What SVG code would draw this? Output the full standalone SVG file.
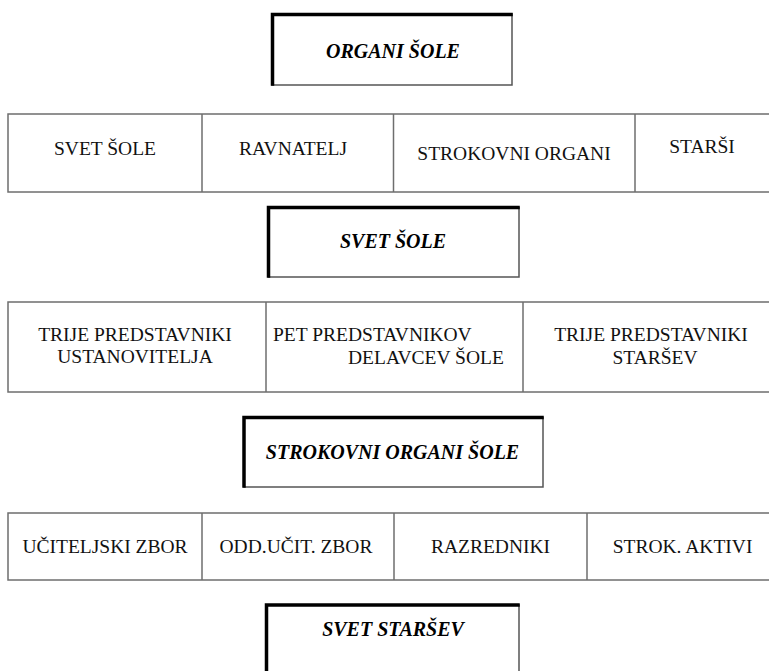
<svg xmlns="http://www.w3.org/2000/svg" width="769" height="671" viewBox="0 0 769 671">
<style>
.bg{fill:#fff}
.row{fill:#fff;stroke:#6e6e6e;stroke-width:1.5}
.div{stroke:#6e6e6e;stroke-width:1.5}
.thin{fill:none;stroke:#555;stroke-width:1.5}
.thick{fill:none;stroke:#000;stroke-width:3.5;stroke-linecap:square}
.h{font-family:"Liberation Serif","Times New Roman",serif;font-weight:bold;font-style:italic;font-size:20px;fill:#000;text-anchor:middle}
.t{font-family:"Liberation Serif","Times New Roman",serif;font-size:19.5px;fill:#111;text-anchor:middle}
.l{font-family:"Liberation Serif","Times New Roman",serif;font-size:19.5px;fill:#111}
</style>
<rect class="bg" width="769" height="671"/>

<g id="organi-sole">
<rect class="thin" x="272" y="14" width="240" height="71"/>
<path class="thick" d="M272.5,84 V14.5 H511"/>
<text class="h" x="393" y="58">ORGANI ŠOLE</text>
</g>

<g id="row1">
<rect class="row" x="8" y="114" width="775" height="78"/>
<g id="svet-sole-cell"><text class="t" x="105" y="155">SVET ŠOLE</text></g>
<g id="ravnatelj"><line class="div" x1="202" y1="114" x2="202" y2="192"/><text class="t" x="293" y="155">RAVNATELJ</text></g>
<g id="strokovni-organi"><line class="div" x1="393.5" y1="114" x2="393.5" y2="192"/><text class="t" x="514" y="160">STROKOVNI ORGANI</text></g>
<g id="starsi"><line class="div" x1="635" y1="114" x2="635" y2="192"/><text class="t" x="702" y="153">STARŠI</text></g>
</g>

<g id="svet-sole">
<rect class="thin" x="268.5" y="207.5" width="250.5" height="69.5"/>
<path class="thick" d="M268.5,276 V207.5 H518"/>
<text class="h" x="393" y="248">SVET ŠOLE</text>
</g>

<g id="row2">
<rect class="row" x="8" y="302" width="775" height="90"/>
<g id="ustanovitelj"><text class="t" x="135" y="341">TRIJE PREDSTAVNIKI</text><text class="t" x="135" y="363">USTANOVITELJA</text></g>
<g id="delavci"><line class="div" x1="266" y1="302" x2="266" y2="392"/><text class="l" x="273" y="341">PET PREDSTAVNIKOV</text><text class="l" x="348" y="364">DELAVCEV ŠOLE</text></g>
<g id="starsi-pred"><line class="div" x1="523" y1="302" x2="523" y2="392"/><text class="t" x="651" y="341">TRIJE PREDSTAVNIKI</text><text class="t" x="655" y="364">STARŠEV</text></g>
</g>

<g id="strokovni-organi-sole">
<rect class="thin" x="244" y="417.5" width="299" height="69.5"/>
<path class="thick" d="M244,486 V417.5 H542"/>
<text class="h" x="392.5" y="459">STROKOVNI ORGANI ŠOLE</text>
</g>

<g id="row3">
<rect class="row" x="8" y="513" width="775" height="67"/>
<g id="uciteljski-zbor"><text class="t" x="105" y="553">UČITELJSKI ZBOR</text></g>
<g id="odd-zbor"><line class="div" x1="202" y1="513" x2="202" y2="580"/><text class="t" x="296" y="553">ODD.UČIT. ZBOR</text></g>
<g id="razredniki"><line class="div" x1="394" y1="513" x2="394" y2="580"/><text class="t" x="490.5" y="553">RAZREDNIKI</text></g>
<g id="strok-aktivi"><line class="div" x1="587" y1="513" x2="587" y2="580"/><text class="t" x="682.5" y="553">STROK. AKTIVI</text></g>
</g>

<g id="svet-starsev">
<rect class="thin" x="266.5" y="605" width="252.5" height="80"/>
<path class="thick" d="M266.5,680 V605 H518"/>
<text class="h" x="393" y="636">SVET STARŠEV</text>
</g>
</svg>
